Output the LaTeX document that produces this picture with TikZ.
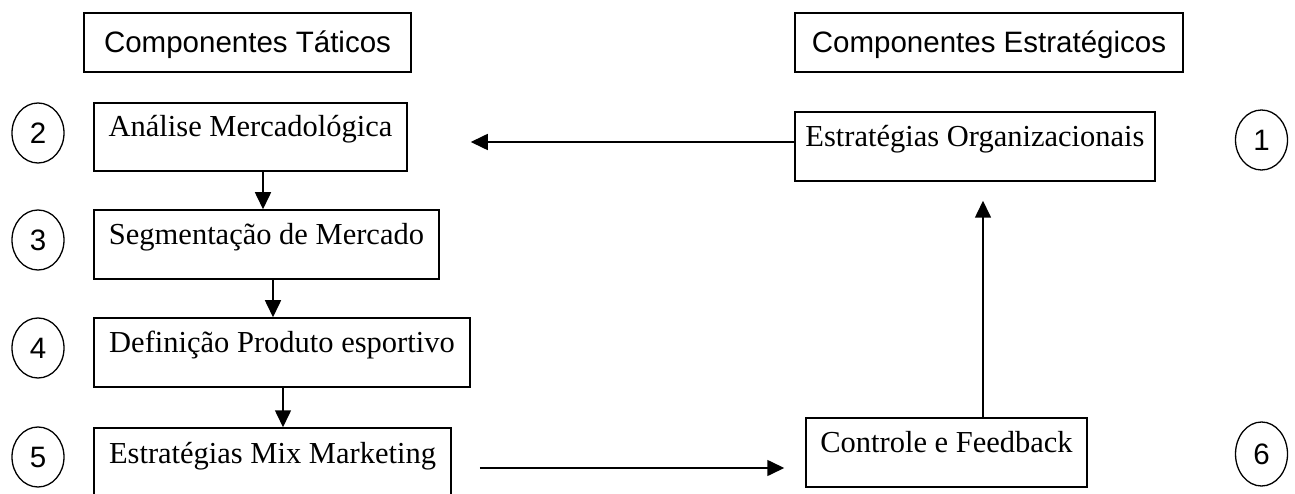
\documentclass[tikz,border=0pt]{standalone}
\usepackage{fontspec}
\setmainfont{Liberation Serif}
\newfontfamily\arialf{Liberation Sans}
\usetikzlibrary{shapes.geometric,arrows.meta}
\tikzset{
  bx/.style={draw, line width=1.5pt, inner sep=0pt, text height=34.5pt, text depth=34.5pt,
    font=\fontsize{30.5}{36}\selectfont},
  hd/.style={draw, line width=1.5pt, inner sep=0pt, text height=40pt, text depth=19pt,
    font=\arialf\fontsize{29.5}{36}\selectfont},
  num/.style={draw, ellipse, line width=1.3pt, inner sep=0pt, minimum width=52pt, minimum height=60pt,
    font=\arialf\fontsize{29.5}{36}\selectfont},
  arr/.style={line width=1.6pt, -{Triangle[length=17pt,width=16pt]}}
}
\begin{document}
\begin{tikzpicture}[x=1pt,y=1pt]
\useasboundingbox (0,0) rectangle (1295,493);
\clip (0,0) rectangle (1295,493);
% headers
\node[hd, minimum width=327pt] (tat) at (247.5,450.5) {Componentes Táticos};
\node[hd, minimum width=388pt] (est) at (989,450.5) {Componentes Estratégicos};
% tactical boxes
\node[bx, minimum width=313pt, text height=34pt, text depth=34pt] (ana) at (250.5,356) {Análise Mercadológica};
\node[bx, minimum width=345pt] (seg) at (266.5,248.5) {Segmentação de Mercado};
\node[bx, minimum width=376pt] (def) at (282,140.5) {Definição Produto esportivo};
\node[bx, minimum width=357pt, text height=35pt, text depth=35pt] (mix) at (272.5,30) {Estratégias Mix Marketing};
% strategic boxes
\node[bx, minimum width=360pt] (org) at (975,346.5) {Estratégias Organizacionais};
\node[bx, minimum width=281pt] (ctrl) at (946.5,40.5) {Controle e Feedback};
% numbers
\node[num] (c1) at (1261.5,353) {1};
\node[num] (c2) at (38,360) {2};
\node[num] (c3) at (38,253) {3};
\node[num] (c4) at (38,145) {4};
\node[num] (c5) at (38,36) {5};
\node[num, minimum height=64pt] (c6) at (1261.5,39) {6};
% connectors
\draw[arr] ([xshift=12.5pt]ana.south) -- ([xshift=-3.5pt]seg.north);
\draw[arr] ([xshift=6.5pt]seg.south) -- ([xshift=-9pt]def.north);
\draw[arr] ([xshift=1pt]def.south) -- ([xshift=10.5pt]mix.north);
\draw[arr] ([yshift=4.5pt]org.west) -- ([xshift=63pt,yshift=-5pt]ana.east);
\draw[arr] ([xshift=28pt,yshift=-5pt]mix.east) -- ([xshift=-21pt,yshift=-15.5pt]ctrl.west);
\draw[arr] ([xshift=36.5pt]ctrl.north) -- ([xshift=8pt,yshift=-19pt]org.south);
\end{tikzpicture}
\end{document}
